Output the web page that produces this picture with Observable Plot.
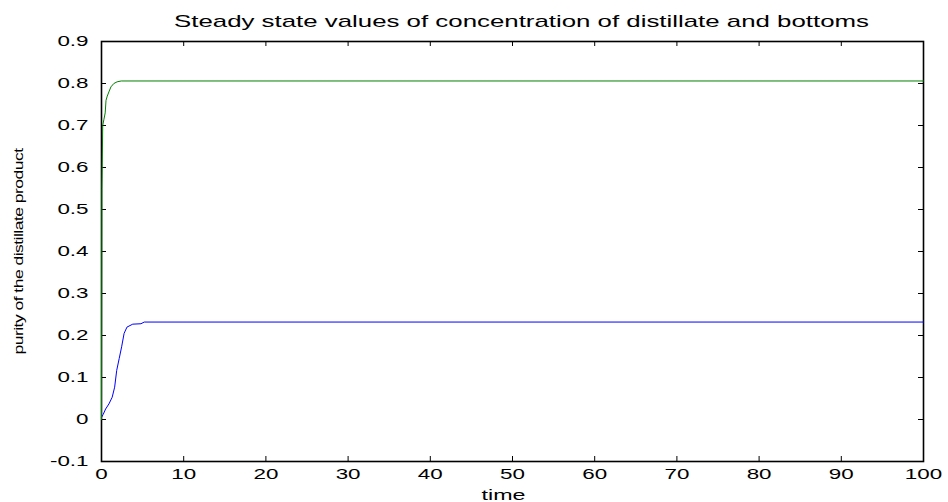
<!DOCTYPE html>
<html>
<head>
<meta charset="utf-8">
<script src="https://cdn.jsdelivr.net/npm/d3@7"></script>
<script src="https://cdn.jsdelivr.net/npm/@observablehq/plot@0.6"></script>
<style>
  html, body { margin: 0; padding: 0; background: #fff; }
  #chart { width: 948px; height: 502px; }
</style>
</head>
<body>
<div id="chart"></div>
<script>
const titleText = "Steady state values of concentration of distillate and bottoms";
const xLabelText = "time";
const yLabelText = "purity of the distillate product";

const xTicks = [0, 10, 20, 30, 40, 50, 60, 70, 80, 90, 100];
const yTicks = [-0.1, 0, 0.1, 0.2, 0.3, 0.4, 0.5, 0.6, 0.7, 0.8, 0.9];

// distillate (green) series
const timeDistillate = [0, 0.05, 0.15, 0.3, 0.45, 0.55, 0.7, 0.9, 1.15, 1.5, 1.9, 2.4, 100];
const distillate     = [0, 0.55, 0.70, 0.715, 0.73, 0.76, 0.77, 0.78, 0.792, 0.80, 0.804, 0.806, 0.806];

// bottoms (blue) series
const timeBottoms = [0, 0.2, 0.5, 0.9, 1.3, 1.6, 1.85, 2.15, 2.45, 2.75, 3.1, 3.8, 4.8, 5.2, 100];
const bottoms     = [0.005, 0.012, 0.025, 0.037, 0.053, 0.077, 0.117, 0.145, 0.173, 0.205, 0.22, 0.227, 0.228, 0.232, 0.232];

const greenData = timeDistillate.map((t, i) => ({t, v: distillate[i]}));
const blueData = timeBottoms.map((t, i) => ({t, v: bottoms[i]}));

const W = 948, H = 502;
const mL = 101, mR = 25, mT = 41, mB = 41;
const innerW = W - mL - mR, innerH = H - mT - mB;
const tickLen = 5;
const font = "'Liberation Sans', Arial, Helvetica, sans-serif";

const svg = Plot.plot({
  width: W,
  height: H,
  marginLeft: mL,
  marginRight: mR,
  marginTop: mT,
  marginBottom: mB,
  style: {fontFamily: font, fontSize: "14px", color: "#000", background: "#fff"},
  x: {domain: [0, 100], ticks: xTicks, tickSize: 0, tickPadding: 8, label: null, tickFormat: d => String(d)},
  y: {domain: [-0.1, 0.9], ticks: yTicks, tickSize: 0, tickPadding: 13, label: null,
      tickFormat: d => (Math.abs(d) < 1e-9 ? "0" : d.toFixed(1))},
  marks: [
    Plot.frame({stroke: "#000", strokeWidth: 1.6}),
    // inward ticks on all four sides
    Plot.ruleX(xTicks, {x: d => d, insetTop: innerH - tickLen, stroke: "#000", strokeWidth: 1}),
    Plot.ruleX(xTicks, {x: d => d, insetBottom: innerH - tickLen, stroke: "#000", strokeWidth: 1}),
    Plot.ruleY(yTicks, {y: d => d, insetRight: innerW - tickLen, stroke: "#000", strokeWidth: 1}),
    Plot.ruleY(yTicks, {y: d => d, insetLeft: innerW - tickLen, stroke: "#000", strokeWidth: 1}),
    Plot.line(blueData, {x: "t", y: "v", stroke: "#0000ff", strokeWidth: 1}),
    Plot.line(greenData, {x: "t", y: "v", stroke: "#008000", strokeWidth: 1}),
    Plot.text([titleText], {frameAnchor: "top", dy: -20, dx: 9, fontSize: 16, fill: "#000", lineAnchor: "middle", textAnchor: "middle"}),
    Plot.text([xLabelText], {frameAnchor: "bottom", dy: 34, dx: -9, fontSize: 15, fill: "#000", lineAnchor: "middle", textAnchor: "middle"}),
    Plot.text([yLabelText], {frameAnchor: "left", dx: -83, rotate: -90, fontSize: 13, fill: "#000", lineAnchor: "middle", textAnchor: "middle"})
  ]
});

document.getElementById("chart").appendChild(svg);

// horizontally stretch the text as in the reference rendering
const isPx = v => v != null && v !== "" && !/[a-z%]/i.test(v);
svg.querySelectorAll("text").forEach(t => {
  const txt = t.textContent;
  let s = 1.6;
  if (txt === titleText) s = 1.615;
  else if (txt === xLabelText) s = 1.55;
  else if (txt === yLabelText) { s = 1.35; t.setAttribute("letter-spacing", "-0.4"); }
  let x = 0;
  const xa = t.getAttribute("x");
  if (isPx(xa)) { x += parseFloat(xa) || 0; t.removeAttribute("x"); }
  const dxa = t.getAttribute("dx");
  if (isPx(dxa)) { x += parseFloat(dxa) || 0; t.removeAttribute("dx"); }
  const tr = t.getAttribute("transform") || "";
  t.setAttribute("transform", `${tr} translate(${x},0) scale(${s},1)`.trim());
});
</script>
</body>
</html>
